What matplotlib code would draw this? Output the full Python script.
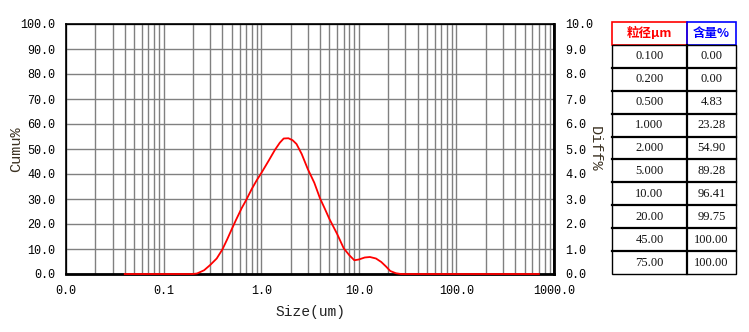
import matplotlib
matplotlib.use("Agg")
import matplotlib.pyplot as plt
import numpy as np
from matplotlib.patches import Rectangle
from matplotlib.ticker import FixedLocator, LogLocator, NullFormatter

# differential distribution (size in um, Diff%)
size = [0.04, 0.2, 0.22, 0.26, 0.3, 0.35, 0.4, 0.45, 0.5, 0.55, 0.63, 0.7, 0.8,
        0.9, 1.0, 1.2, 1.38, 1.55, 1.7, 1.9, 2.1, 2.3, 2.6, 3.0, 3.5, 4.0, 4.5,
        5.0, 6.0, 7.0, 8.0, 9.0, 10.0, 11.5, 13.0, 15.0, 17.0, 19.0, 21.0, 24.0,
        27.0, 700.0]
diff = [0.0, 0.0, 0.02, 0.15, 0.36, 0.62, 0.98, 1.4, 1.8, 2.15, 2.63, 2.95, 3.4,
        3.75, 4.03, 4.55, 4.96, 5.25, 5.42, 5.43, 5.35, 5.2, 4.8, 4.2, 3.65, 3.03,
        2.6, 2.2, 1.6, 1.03, 0.75, 0.55, 0.58, 0.66, 0.68, 0.62, 0.48, 0.3, 0.12,
        0.03, 0.0, 0.0]

x_ticks = [0.01, 0.1, 1, 10, 100, 1000]
x_labels = ["0.0", "0.1", "1.0", "10.0", "100.0", "1000.0"]

tbl_size = ["0.100", "0.200", "0.500", "1.000", "2.000", "5.000", "10.00", "20.00", "45.00", "75.00"]
tbl_pct = ["0.00", "0.00", "4.83", "23.28", "54.90", "89.28", "96.41", "99.75", "100.00", "100.00"]

W, H = 749, 332
fig = plt.figure(figsize=(W / 100, H / 100), dpi=100)
mono = "Liberation Mono"

ax = fig.add_axes([66 / W, 1 - 274 / H, (554 - 66) / W, (274 - 24) / H])
ax.set_xscale("log")
ax.set_xlim(0.01, 1000)
ax.set_ylim(0, 100)
ax.xaxis.set_major_locator(FixedLocator(x_ticks))
ax.xaxis.set_minor_locator(LogLocator(base=10, subs=np.arange(2, 10), numticks=50))
ax.xaxis.set_minor_formatter(NullFormatter())
ax.set_xticklabels(x_labels, family=mono, fontsize=8.5)
ax.set_yticks(np.arange(0, 101, 10))
ax.set_yticklabels([f"{v:.1f}" for v in range(0, 101, 10)], family=mono, fontsize=8.5)
ax.tick_params(which="both", length=0, pad=8)
ax.grid(True, which="both", axis="x", color="#808080", lw=1)
ax.grid(True, which="major", axis="y", color="#808080", lw=1)
ax.set_axisbelow(True)
for s in ax.spines.values():
    s.set_color("black")
    s.set_linewidth(1.2)
ax.spines["bottom"].set_linewidth(2)
ax.set_xlabel("Size(um)", family=mono, fontsize=10.5, color="#222222", labelpad=6)
ax.set_ylabel("Cumu%", family=mono, fontsize=11, color="#3a3020", va="center")
ax.yaxis.set_label_coords(-0.102, 0.5)

ax2 = ax.twinx()
ax2.set_ylim(0, 10)
ax2.set_yticks(np.arange(0, 11, 1))
ax2.set_yticklabels([f"{v:.1f}" for v in range(0, 11)], family=mono, fontsize=8.5)
ax2.tick_params(length=0, pad=8)
ax2.spines["right"].set_linewidth(2)
ax2.set_ylabel("Diff%", family=mono, fontsize=11, color="#3a3020", rotation=-90, va="center")
ax2.yaxis.set_label_coords(1.084, 0.5)
ax2.plot(size, diff, color="#ff0000", lw=1.3, clip_on=False, zorder=5)

# table on the right
tl, tm, tr = 612, 687, 736
top = 21.7
rh = (274.3 - top) / 11


def fx(px):
    return px / W


def fy(py):
    return 1 - py / H


cjk = ["Noto Sans CJK SC", "DejaVu Sans"]
fig.add_artist(Rectangle((fx(tl), fy(top + rh)), fx(tm - tl), rh / H, fill=False,
                         ec="#ff0000", lw=1.2, transform=fig.transFigure))
fig.add_artist(Rectangle((fx(tm), fy(top + rh)), fx(tr - tm), rh / H, fill=False,
                         ec="#0000ff", lw=1.2, transform=fig.transFigure))
fig.text(fx((tl + tm) / 2), fy(top + rh / 2), "粒径μm", color="#ff0000", family=cjk,
         fontweight="bold", fontsize=9, ha="center", va="center")
fig.text(fx((tm + tr) / 2), fy(top + rh / 2), "含量%", color="#0000ff", family=cjk,
         fontweight="bold", fontsize=9, ha="center", va="center")

body_top = top + rh
fig.add_artist(Rectangle((fx(tl), fy(274.3)), fx(tr - tl), (274.3 - body_top) / H, fill=False,
                         ec="black", lw=1, transform=fig.transFigure))
fig.add_artist(plt.Line2D([fx(tm), fx(tm)], [fy(body_top), fy(274.3)], color="black", lw=1.6,
                          transform=fig.transFigure))
for i, (a, b) in enumerate(zip(tbl_size, tbl_pct)):
    y0 = body_top + i * rh
    if i > 0:
        fig.add_artist(plt.Line2D([fx(tl), fx(tr)], [fy(y0), fy(y0)], color="black", lw=1.6,
                                  transform=fig.transFigure))
    fig.text(fx((tl + tm) / 2), fy(y0 + rh / 2), a, family="Liberation Serif", fontsize=9,
             ha="center", va="center", color="#111111")
    fig.text(fx((tm + tr) / 2), fy(y0 + rh / 2), b, family="Liberation Serif", fontsize=9,
             ha="center", va="center", color="#111111")

fig.savefig("out.png", dpi=100)
